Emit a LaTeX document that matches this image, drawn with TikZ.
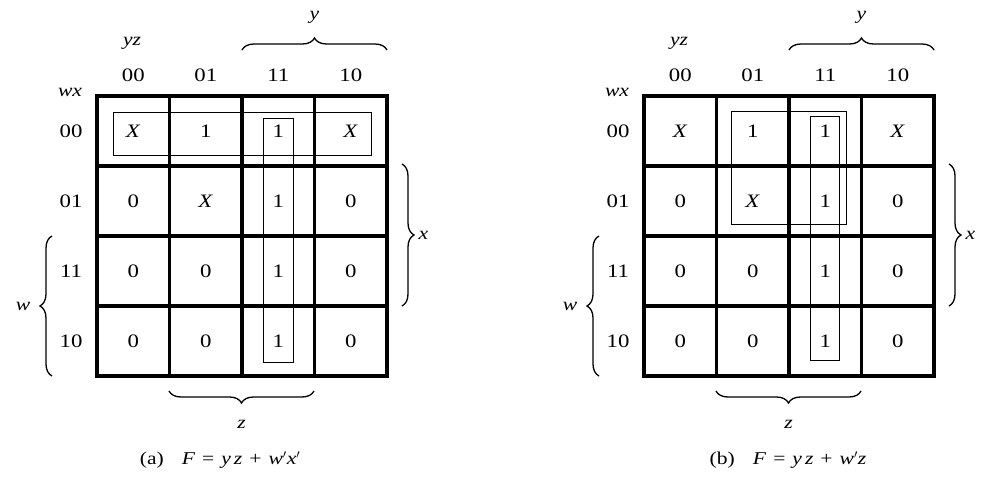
\documentclass[tikz,border=0pt]{standalone}
\usepackage{fontspec}
\setmainfont[FakeStretch=1.2]{Liberation Serif}
\usetikzlibrary{decorations.pathreplacing, positioning, calc}

\begin{document}
\begin{tikzpicture}[x=1pt, y=-1pt,
  cell/.style={minimum width=72pt, minimum height=70pt, inner sep=0pt, font=\fontsize{19}{19}\selectfont},
  hdr/.style={inner sep=0pt, font=\fontsize{19}{19}\selectfont},
  lbl/.style={inner sep=0pt, font=\fontsize{18}{18}\selectfont\itshape},
  grid/.style={line width=3.4pt, line cap=rect},
  kloop/.style={line width=0.9pt},
  brace/.style={decorate, decoration={brace, amplitude=12pt}, line width=1.3pt},
  caption/.style={inner sep=0pt, font=\fontsize{18}{18}\selectfont},
]
  \useasboundingbox (0,0) rectangle (982,482);

  \foreach \m/\dx in {a/0, b/547} {
    \begin{scope}[xshift=\dx pt]
      \node[lbl] (\m-yz) at (132,43) {yz};
      \node[lbl] (\m-wx) at (70,92) {wx};
      \foreach \h [count=\c] in {00,01,11,10} {
        \node[hdr] (\m-col\c) at (97+72.5*\c-36.25,75) {\h};
        \node[hdr] (\m-row\c) at (71,96+70*\c-35) {\h};
      }
      \foreach \vals [count=\r] in {{\textit{X},1,1,\textit{X}},{0,\textit{X},1,0},{0,0,1,0},{0,0,1,0}}
        \foreach \v [count=\c] in \vals
          \node[cell] (\m-\r-\c) at (97+72.5*\c-36.25,96+70*\r-35) {\v};
      \foreach \i in {0,...,4} {
        \draw[grid] (97+72.5*\i,96) -- (97+72.5*\i,376);
        \draw[grid] (97,96+70*\i) -- (387,96+70*\i);
      }
      \draw[brace] (242,50) -- (387,50) node[lbl, midway, above=26pt] (\m-y) {y};
      \draw[brace] (402,164) -- (402,306) node[lbl, midway, right=16pt] (\m-x) {x};
      \draw[brace] (52,376) -- (52,236) node[lbl, midway, left=21pt] (\m-w) {w};
      \draw[brace] (314,391) -- (169,391) node[lbl, midway, below=29pt] (\m-z) {z};
    \end{scope}
  }

  \draw[kloop] (113,112) rectangle (371,155);
  \draw[kloop] (263,118) rectangle (293,362);
  \draw[kloop] (731,111) rectangle (846,224);
  \draw[kloop] (810,116) rectangle (839,360);

  \node[caption] (capa) at (220,460) {(a)\quad\textit{F}\hspace{7pt}=\hspace{7pt}\textit{y\,z}\hspace{7pt}+\hspace{7pt}\textit{w}$'$\textit{x}$'$};
  \node[caption] (capb) at (788,460) {(b)\quad\textit{F}\hspace{7pt}=\hspace{7pt}\textit{y\,z}\hspace{7pt}+\hspace{7pt}\textit{w}$'$\textit{z}};
\end{tikzpicture}
\end{document}
